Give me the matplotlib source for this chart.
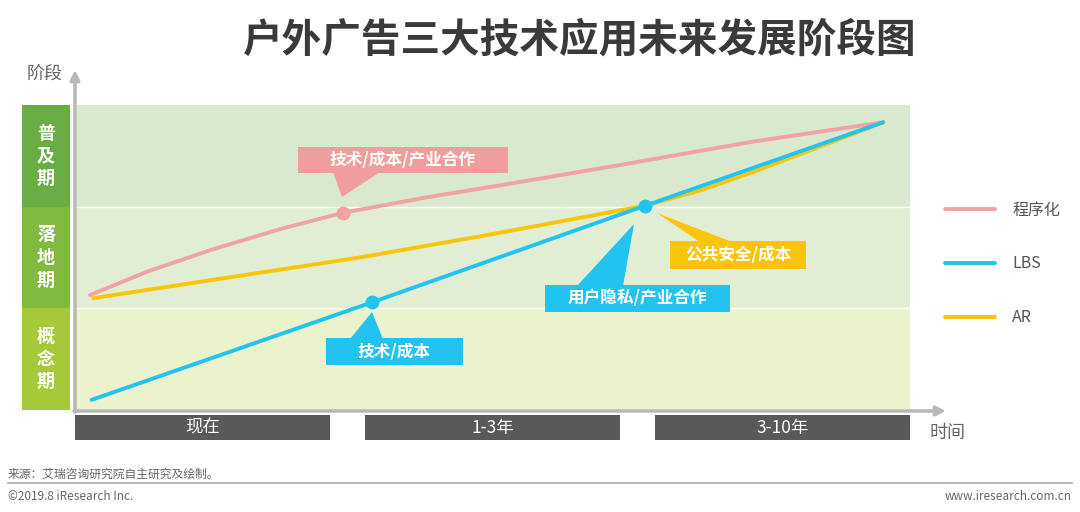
import matplotlib.pyplot as plt
from matplotlib.patches import Rectangle, Polygon

plt.rcParams['font.family'] = ['Noto Sans CJK SC', 'DejaVu Sans']

# data
stages = ['概念期', '落地期', '普及期']
periods = ['现在', '1-3年', '3-10年']

prog_x = [0.18, 0.86, 1.65, 2.46, 3.21, 4.2, 5.09, 6.53, 8.12, 9.68]
prog_y = [1.13, 1.36, 1.58, 1.78, 1.94, 2.09, 2.21, 2.41, 2.64, 2.83]
lbs_x = [0.2, 3.56, 6.83, 9.68]
lbs_y = [0.10, 1.06, 2.01, 2.83]
ar_x = [0.22, 1.65, 3.41, 5.0, 6.83, 7.49, 8.12, 8.92, 9.68]
ar_y = [1.10, 1.28, 1.50, 1.73, 2.01, 2.16, 2.34, 2.59, 2.83]

prog_pts = ([3.21], [1.94])
lbs_pts = ([3.56, 6.83], [1.06, 2.01])

C_PROG = '#f2a2a2'
C_LBS = '#22c3ee'
C_AR = '#f9c50a'

W, H = 1080, 512
fig = plt.figure(figsize=(10.8, 5.12), dpi=100)

# background layer in pixel coords
bg = fig.add_axes([0, 0, 1, 1], zorder=0)
bg.set_xlim(0, W)
bg.set_ylim(H, 0)
bg.axis('off')

# main data axes
ax = fig.add_axes([75 / W, 1 - 410 / H, 835 / W, 305 / H], zorder=1)
ax.set_xlim(0, 10)
ax.set_ylim(0, 3)
ax.axis('off')

band_cols = ['#ebf3cd', '#e1eed4', '#d8e9d0']
for i, c in enumerate(band_cols):
    ax.axhspan(i, i + 1, color=c, lw=0)
for i in (1, 2):
    ax.axhline(i, color='white', lw=1)

ax.plot(prog_x, prog_y, color=C_PROG, lw=2.8, solid_capstyle='round',
        solid_joinstyle='round', label='程序化')
ax.plot(ar_x, ar_y, color=C_AR, lw=2.8, solid_capstyle='round',
        solid_joinstyle='round', label='AR', zorder=3)
ax.plot(lbs_x, lbs_y, color=C_LBS, lw=2.8, solid_capstyle='round', label='LBS', zorder=3)
ax.plot(*prog_pts, 'o', color=C_PROG, ms=9, zorder=4)
ax.plot(*lbs_pts, 'o', color=C_LBS, ms=9, zorder=4)

h = {l.get_label(): l for l in ax.get_lines()}
leg = ax.legend([h['程序化'], h['LBS'], h['AR']], ['程序化', 'LBS', 'AR'],
                loc='center left', bbox_to_anchor=(945 / W, 1 - 264 / H),
                bbox_transform=fig.transFigure, frameon=False,
                fontsize=11.5, labelspacing=2.3, handlelength=3.1,
                handletextpad=1.1, borderpad=0, borderaxespad=0)
for t in leg.get_texts():
    t.set_color('#555555')

# stage labels on the left
stage_cols = ['#a6c93a', '#80bb3f', '#69ad45']
top, bottom = 105, 410
bh = (bottom - top) / 3
for i, (s, c) in enumerate(zip(stages, stage_cols)):
    y0 = bottom - (i + 1) * bh
    bg.add_patch(Rectangle((22, y0), 48, bh, color=c, lw=0))
    bg.text(46, y0 + bh / 2, '\n'.join(s), color='white', fontsize=13,
            fontweight='bold', ha='center', va='center', linespacing=1.25)

# time bars
bar_x = [75, 365, 655]
for x0, p in zip(bar_x, periods):
    bg.add_patch(Rectangle((x0, 415), 255, 25, color='#595959', lw=0))
    bg.text(x0 + 127.5, 428, p, color='white', fontsize=12.5, ha='center', va='center')

# title and footer
bg.text(580, 40, '户外广告三大技术应用未来发展阶段图', fontsize=28.5, fontweight='bold',
        color='#3a3a3a', ha='center', va='center')
bg.text(27, 75, '阶段', fontsize=13, color='#666666', ha='left', va='center')
bg.text(930, 433, '时间', fontsize=13, color='#666666', ha='left', va='center')
bg.text(8, 474, '来源：艾瑞咨询研究院自主研究及绘制。', fontsize=8.5, color='#666666',
        ha='left', va='center')
bg.plot([8, 1072], [483, 483], color='#aaaaaa', lw=1.2)
bg.text(8, 496, '©2019.8 iResearch Inc.', fontsize=8.5, color='#666666', ha='left', va='center')
bg.text(1072, 496, 'www.iresearch.com.cn', fontsize=8.5, color='#666666', ha='right', va='center')

# foreground: axis arrows and callouts
fg = fig.add_axes([0, 0, 1, 1], zorder=2)
fg.set_xlim(0, W)
fg.set_ylim(H, 0)
fg.axis('off')
fg.patch.set_alpha(0)

arrow = dict(arrowstyle='-|>', color='#b8b8b8', lw=2.5, mutation_scale=14, shrinkA=0, shrinkB=0)
fg.annotate('', xy=(75, 70), xytext=(75, 412), arrowprops=arrow)
fg.annotate('', xy=(946, 411), xytext=(74, 411), arrowprops=arrow)


def callout(x0, y0, w, hgt, tri, text, color):
    fg.add_patch(Polygon(tri, closed=True, color=color, lw=0))
    fg.add_patch(Rectangle((x0, y0), w, hgt, color=color, lw=0))
    fg.text(x0 + w / 2, y0 + hgt / 2, text, color='white', fontsize=12,
            fontweight='bold', ha='center', va='center')


callout(298, 147, 210, 26, [(333, 172), (380, 172), (342, 197)], '技术/成本/产业合作', '#f29d9d')
callout(326, 338, 137, 27, [(350, 339), (383, 339), (372, 312)], '技术/成本', C_LBS)
callout(545, 285, 185, 27, [(577, 286), (623, 286), (634, 224)], '用户隐私/产业合作', C_LBS)
callout(670, 241, 136, 28, [(657, 213), (700, 242), (732, 242)], '公共安全/成本', C_AR)

fig.savefig('out.png', dpi=100)
